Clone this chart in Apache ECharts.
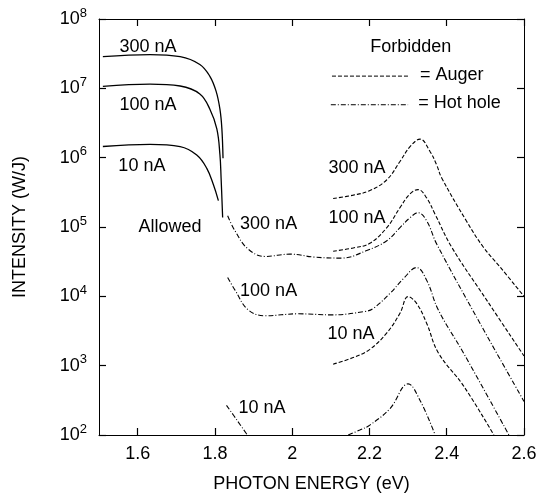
<!DOCTYPE html>
<html>
<head>
<meta charset="utf-8">
<script src="https://cdn.jsdelivr.net/npm/echarts@6.0.0/dist/echarts.min.js"></script>
<style>
  html, body { margin: 0; padding: 0; background: #fff; }
  #main { width: 546px; height: 498px; }
</style>
</head>
<body>
<div id="main"></div>
<script>
// photon energy (eV) / intensity (W/J)

// allowed emission (solid)
var allowed300E = [1.51, 1.632, 1.71, 1.761, 1.787, 1.803, 1.813, 1.818, 1.821];
var allowed300I = [2.87e7, 3.07e7, 2.87e7, 2.21e7, 1.49e7, 9.1e6, 5.0e6, 2.62e6, 9.8e5];
var allowed100E = [1.51, 1.632, 1.71, 1.761, 1.787, 1.805, 1.813, 1.816, 1.820];
var allowed100I = [1.07e7, 1.15e7, 1.08e7, 8.3e6, 5.0e6, 2.6e6, 1.1e6, 5.1e5, 1.37e5];
var allowed10E = [1.51, 1.632, 1.71, 1.753, 1.779, 1.796, 1.809];
var allowed10I = [1.45e6, 1.55e6, 1.44e6, 1.09e6, 7.0e5, 4.1e5, 2.4e5];

// forbidden, Auger (dashed)
var auger300E = [2.106, 2.158, 2.201, 2.245, 2.279, 2.305, 2.331, 2.357, 2.374, 2.387, 2.451, 2.495, 2.538, 2.6];
var auger300I = [2.58e5, 2.88e5, 3.35e5, 4.8e5, 8.8e5, 1.44e6, 1.85e6, 1.22e6, 7.85e5, 5.1e5, 1.22e5, 5.1e4, 2.65e4, 1.0e4];
var auger100E = [2.106, 2.158, 2.201, 2.245, 2.279, 2.305, 2.326, 2.348, 2.370, 2.413, 2.503, 2.6];
var auger100I = [4.48e4, 4.99e4, 5.82e4, 9.8e4, 1.9e5, 3.0e5, 3.46e5, 2.63e5, 1.52e5, 5.1e4, 8.9e3, 1.38e3];
var auger10E = [2.106, 2.158, 2.201, 2.245, 2.279, 2.300, 2.322, 2.348, 2.378, 2.443, 2.522];
var auger10I = [1.05e3, 1.31e3, 1.72e3, 2.97e3, 5.7e3, 9.9e3, 7.9e3, 4.1e3, 1.54e3, 516, 100];

// forbidden, hot hole (dash-dot)
var hot300E = [1.833, 1.852, 1.886, 1.930, 1.994, 2.059, 2.128, 2.193, 2.245, 2.279, 2.305, 2.326, 2.348, 2.374, 2.486, 2.6];
var hot300I = [1.45e5, 8.8e4, 4.8e4, 3.76e4, 4.06e4, 3.67e4, 3.56e4, 4.58e4, 6.35e4, 9.8e4, 1.36e5, 1.61e5, 1.23e5, 5.7e4, 4.1e3, 305];
var hot100E = [1.833, 1.852, 1.886, 1.930, 2.016, 2.102, 2.188, 2.210, 2.253, 2.288, 2.322, 2.348, 2.378, 2.443, 2.561];
var hot100I = [1.87e4, 1.23e4, 6.4e3, 5.25e3, 5.6e3, 5.4e3, 6.05e3, 6.7e3, 1.1e4, 1.8e4, 2.6e4, 1.71e4, 6.4e3, 1.54e3, 100];
var hot10aE = [1.830, 1.857, 1.884];
var hot10aI = [268, 164, 100];
var hot10bE = [2.145, 2.175, 2.201, 2.253, 2.300, 2.331, 2.370];
var hot10bI = [100, 118, 139, 240, 546, 315, 100];

var xTicks = [1.6, 1.8, 2.0, 2.2, 2.4, 2.6];

// text annotations: text, energy, intensity
var noteText = ['300 nA', '100 nA', '10 nA', 'Allowed', '300 nA', '100 nA', '10 nA', '300 nA', '100 nA', '10 nA', 'Forbidden'];
var noteE = [1.627, 1.627, 1.611, 1.684, 1.939, 1.939, 1.922, 2.168, 2.168, 2.152, 2.307];
var noteI = [4.0e7, 5.75e6, 7.5e5, 1.0e5, 1.12e5, 1.19e4, 243, 7.0e5, 1.36e5, 2.9e3, 4.0e7];

var FONT = '"Liberation Sans", Arial, Helvetica, sans-serif';
var DASH = [4, 2];
var DASHDOT = [5, 2, 1, 2];

function run() {
    var chart = echarts.init(document.getElementById('main'));

    function line(E, I, dash, w) {
        return {
            type: 'line',
            data: E.map(function (e, i) { return [e, I[i]]; }),
            showSymbol: false,
            silent: true,
            smooth: 0.4,
            lineStyle: { color: '#000', width: w || 1.1, type: dash }
        };
    }

    function ticks(vals) {
        var t = { show: true, inside: true, length: 7, lineStyle: { color: '#000', width: 1.2 } };
        if (vals) t.customValues = vals;
        return t;
    }

    chart.setOption({
        animation: false,
        backgroundColor: '#fff',
        grid: { left: 99, right: 22, top: 19, bottom: 58 },
        xAxis: [{
            type: 'value', min: 1.5, max: 2.6,
            name: 'PHOTON ENERGY (eV)', nameLocation: 'middle', nameGap: 40,
            nameTextStyle: { fontSize: 18, color: '#000', fontFamily: FONT },
            axisLine: { show: true, lineStyle: { color: '#000', width: 1 } },
            axisTick: ticks(xTicks),
            axisLabel: { customValues: xTicks, fontSize: 18, color: '#000', margin: 10, fontFamily: FONT },
            splitLine: { show: false }
        }, {
            type: 'value', min: 1.5, max: 2.6, position: 'top',
            axisLine: { show: true, lineStyle: { color: '#000', width: 1 } },
            axisTick: ticks(xTicks),
            axisLabel: { show: false },
            splitLine: { show: false }
        }],
        yAxis: [{
            type: 'log', logBase: 10, min: 1e2, max: 1e8,
            name: 'INTENSITY (W/J)', nameLocation: 'middle', nameGap: 70, nameRotate: 90,
            nameTextStyle: { fontSize: 18, color: '#000', fontFamily: FONT },
            axisLine: { show: true, lineStyle: { color: '#000', width: 1 } },
            axisTick: ticks(),
            axisLabel: {
                fontSize: 18, color: '#000', margin: 12, fontFamily: FONT,
                formatter: function (v) { return '10{e|' + Math.round(Math.log10(v)) + '}'; },
                rich: { e: { fontSize: 13, fontFamily: FONT, color: '#000', verticalAlign: 'bottom', padding: [0, 0, 12, 0] } }
            },
            splitLine: { show: false }
        }, {
            type: 'log', logBase: 10, min: 1e2, max: 1e8, position: 'right',
            axisLine: { show: true, lineStyle: { color: '#000', width: 1 } },
            axisTick: ticks(),
            axisLabel: { show: false },
            splitLine: { show: false }
        }],
        series: [
            line(allowed300E, allowed300I, 'solid', 1.3),
            line(allowed100E, allowed100I, 'solid', 1.3),
            line(allowed10E, allowed10I, 'solid', 1.3),
            line(auger300E, auger300I, DASH),
            line(auger100E, auger100I, DASH),
            line(auger10E, auger10I, DASH),
            line(hot300E, hot300I, DASHDOT),
            line(hot100E, hot100I, DASHDOT),
            line(hot10aE, hot10aI, DASHDOT),
            line(hot10bE, hot10bI, DASHDOT)
        ]
    });

    var toPx = function (e, i) { return chart.convertToPixel({ xAxisIndex: 0, yAxisIndex: 0 }, [e, i]); };
    var g = noteText.map(function (t, k) {
        var p = toPx(noteE[k], noteI[k]);
        return { type: 'text', x: p[0], y: p[1], silent: true,
            style: { text: t, fontSize: 18, fontFamily: FONT, fill: '#000', align: 'center', verticalAlign: 'middle' } };
    });

    // legend key for the two forbidden processes
    var a1 = toPx(2.103, 1.5e7), a2 = toPx(2.300, 1.5e7);
    var h1 = toPx(2.100, 5.8e6), h2 = toPx(2.300, 5.8e6);
    g.push({ type: 'line', silent: true, shape: { x1: a1[0], y1: a1[1], x2: a2[0], y2: a2[1] },
        style: { stroke: '#000', lineWidth: 1, lineDash: DASH } });
    g.push({ type: 'line', silent: true, shape: { x1: h1[0], y1: h1[1], x2: h2[0], y2: h2[1] },
        style: { stroke: '#000', lineWidth: 1, lineDash: DASHDOT } });
    var t1 = toPx(2.331, 1.54e7), t2 = toPx(2.326, 6.15e6);
    g.push({ type: 'text', x: t1[0], y: t1[1], silent: true,
        style: { text: '= Auger', fontSize: 18, fontFamily: FONT, fill: '#000', align: 'left', verticalAlign: 'middle' } });
    g.push({ type: 'text', x: t2[0], y: t2[1], silent: true,
        style: { text: '= Hot hole', fontSize: 18, fontFamily: FONT, fill: '#000', align: 'left', verticalAlign: 'middle' } });

    chart.setOption({ graphic: g });
}

if (document.readyState !== 'loading') {
    run();
} else {
    document.addEventListener('DOMContentLoaded', run);
}
</script>
</body>
</html>
